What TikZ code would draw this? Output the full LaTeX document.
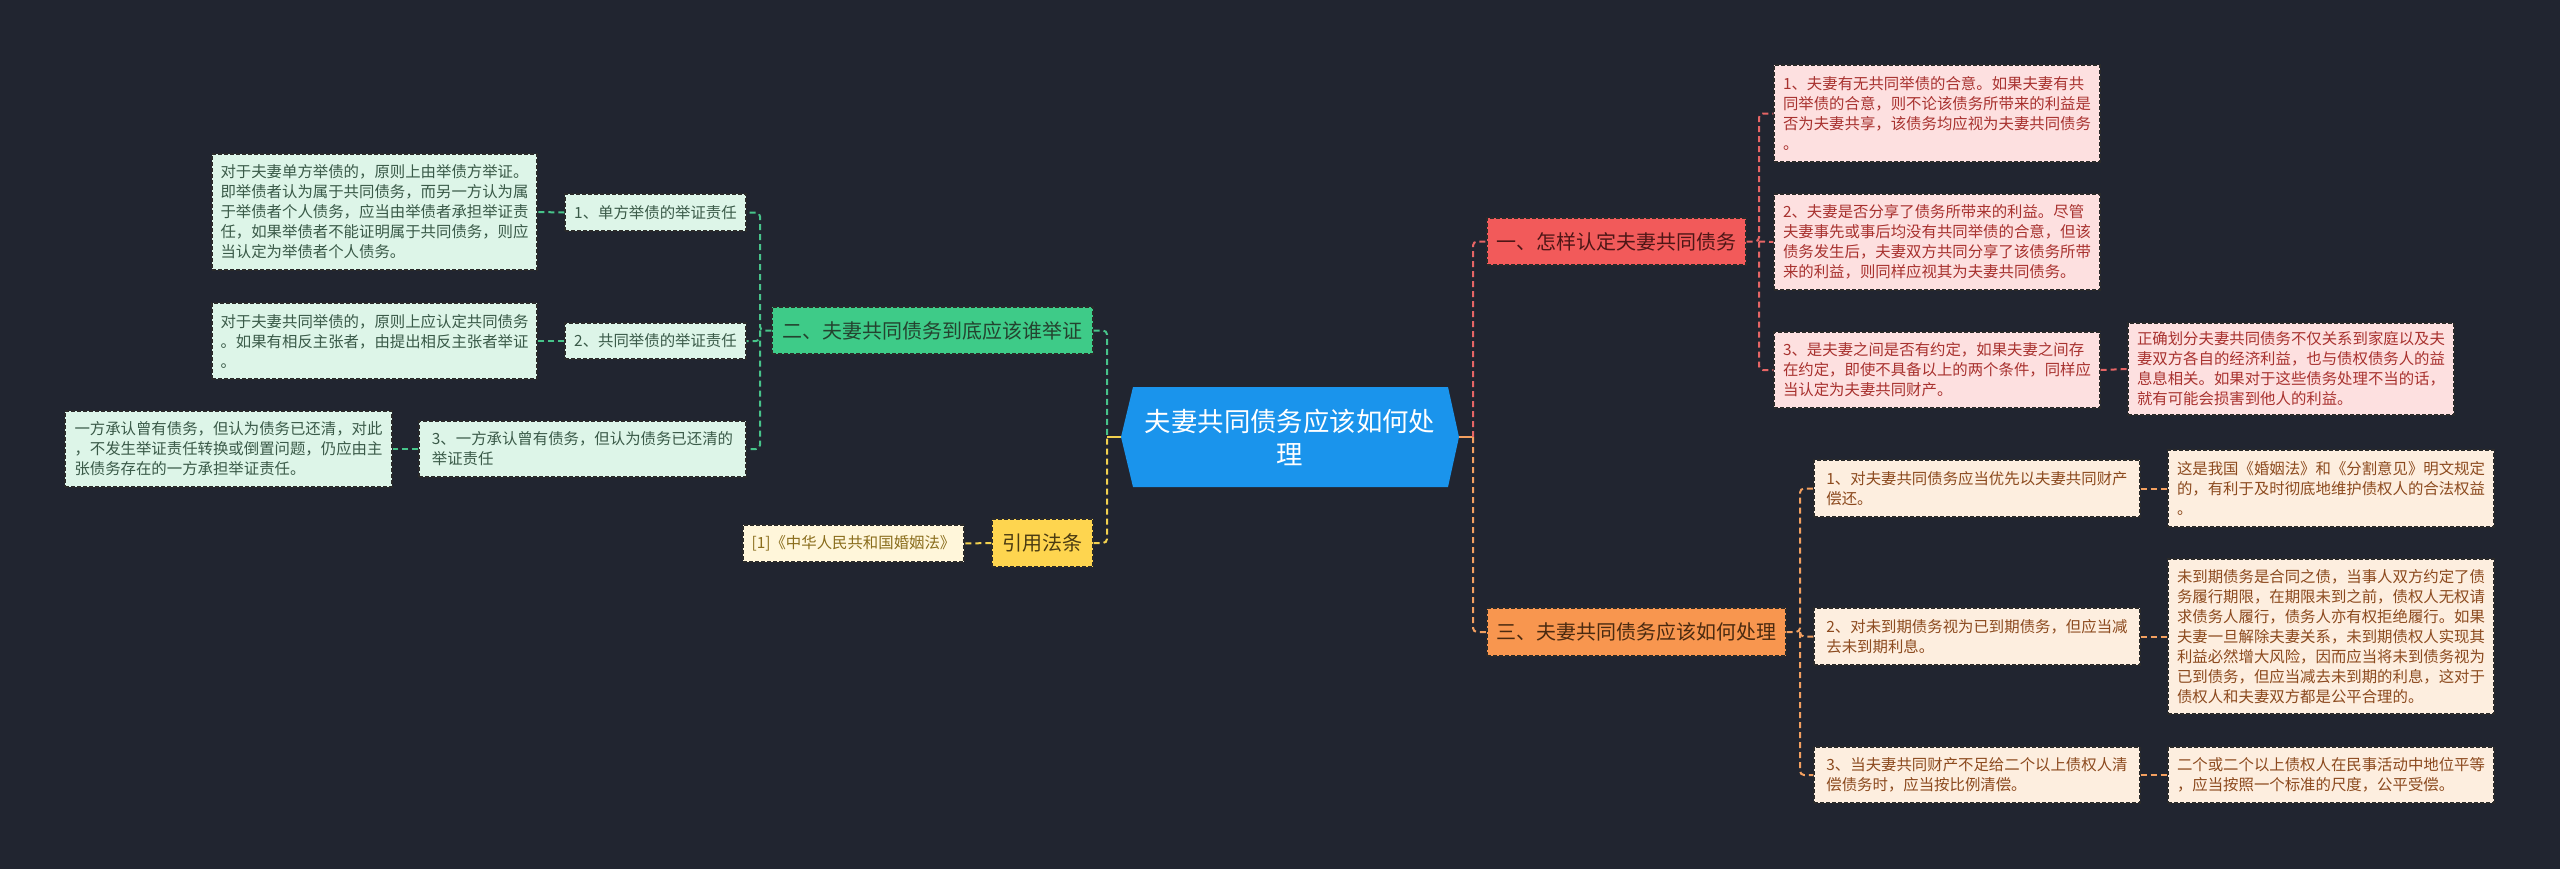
\documentclass[tikz,border=0pt]{standalone}
\usepackage{fontspec}
\setmainfont{Noto Sans CJK SC}
\definecolor{bg}{HTML}{212530}
\definecolor{cblue}{HTML}{1A94EC}
\definecolor{boxline}{HTML}{2A2A2A}
\definecolor{gmain}{HTML}{3ECB88}
\definecolor{gtextm}{HTML}{24432F}
\definecolor{gfill}{HTML}{DDF5E8}
\definecolor{gtext}{HTML}{3A5A48}
\definecolor{gline}{HTML}{47C48A}
\definecolor{rmain}{HTML}{F25A5A}
\definecolor{rtextm}{HTML}{4E1616}
\definecolor{rfill}{HTML}{FDE0E0}
\definecolor{rtext}{HTML}{A8322F}
\definecolor{rline}{HTML}{E66565}
\definecolor{omain}{HTML}{F8964F}
\definecolor{otextm}{HTML}{4A2A10}
\definecolor{ofill}{HTML}{FDEEDF}
\definecolor{otext}{HTML}{8C4A1E}
\definecolor{oline}{HTML}{F3A060}
\definecolor{ymain}{HTML}{FED54F}
\definecolor{ytextm}{HTML}{4A3B12}
\definecolor{yfill}{HTML}{FFF6DA}
\definecolor{ytext}{HTML}{8A6D1C}
\definecolor{yline}{HTML}{F2D14F}
\begin{document}
\begin{tikzpicture}[x=0.5pt,y=-0.5pt,
  sz/.style 2 args={minimum width={0.5pt*#1}, minimum height={0.5pt*#2}},
  boxbase/.style={draw=boxline, dash pattern=on 2pt off 1pt, line width=0.6pt, inner sep=0pt},
  leaf/.style={boxbase, align=left, font=\fontsize{7.7}{10}\selectfont},
  branch/.style={boxbase, align=center, font=\fontsize{10}{12}\selectfont},
  gleaf/.style={leaf, fill=gfill, text=gtext},
  rleaf/.style={leaf, fill=rfill, text=rtext},
  oleaf/.style={leaf, fill=ofill, text=otext},
  yleaf/.style={leaf, fill=yfill, text=ytext},
  conn/.style={line width=1pt, dash pattern=on 3pt off 2pt, rounded corners=2pt},
]
\useasboundingbox (0,0) rectangle (2560,869);
\fill[bg] (0,0) rectangle (2560,869);

% central hexagon
\coordinate (cc) at (1290,437);
\fill[cblue] (1121,437) -- (1133,387) -- (1448,387) -- (1459,437) -- (1448,487) -- (1133,487) -- cycle;
\node[sz={338}{100}, inner sep=0pt, align=center, text=white, font=\fontsize{13.2}{16.5}\selectfont] (center) at (cc) {夫妻共同债务应该如何处\\理};

% left side
\node[branch, fill=gmain, text=gtextm, sz={321}{47}] (green) at (932.5,330.5) {二、夫妻共同债务到底应该谁举证};
\node[branch, fill=ymain, text=ytextm, sz={101}{48}] (yellow) at (1042.5,543) {引用法条};
\node[yleaf, sz={221}{37}] (cite) at (853.5,543.5) {[1]《中华人民共和国婚姻法》};

\node[gleaf, sz={181}{37}] (L1) at (655.5,212.5) {1、单方举债的举证责任};
\node[gleaf, sz={181}{36}] (L2) at (655.5,341) {2、共同举债的举证责任};
\node[gleaf, sz={327}{56}] (L3) at (582.5,449) {3、一方承认曾有债务，但认为债务已还清的\\举证责任};

\node[gleaf, sz={325}{116}] (A1) at (374.5,212) {对于夫妻单方举债的，原则上由举债方举证。\\即举债者认为属于共同债务，而另一方认为属\\于举债者个人债务，应当由举债者承担举证责\\任，如果举债者不能证明属于共同债务，则应\\当认定为举债者个人债务。};
\node[gleaf, sz={325}{76}] (A2) at (374.5,341) {对于夫妻共同举债的，原则上应认定共同债务\\。如果有相反主张者，由提出相反主张者举证\\。};
\node[gleaf, sz={327}{76}] (A3) at (228.5,449) {一方承认曾有债务，但认为债务已还清，对此\\，不发生举证责任转换或倒置问题，仍应由主\\张债务存在的一方承担举证责任。};

% right side
\node[branch, fill=rmain, text=rtextm, sz={259}{47}] (red) at (1616.5,241.5) {一、怎样认定夫妻共同债务};
\node[rleaf, sz={326}{97}] (R1) at (1937,113.5) {1、夫妻有无共同举债的合意。如果夫妻有共\\同举债的合意，则不论该债务所带来的利益是\\否为夫妻共享，该债务均应视为夫妻共同债务\\。};
\node[rleaf, sz={326}{96}] (R2) at (1937,242) {2、夫妻是否分享了债务所带来的利益。尽管\\夫妻事先或事后均没有共同举债的合意，但该\\债务发生后，夫妻双方共同分享了该债务所带\\来的利益，则同样应视其为夫妻共同债务。};
\node[rleaf, sz={326}{76}] (R3) at (1937,370) {3、是夫妻之间是否有约定，如果夫妻之间存\\在约定，即使不具备以上的两个条件，同样应\\当认定为夫妻共同财产。};
\node[rleaf, sz={326}{92}] (R3d) at (2291,369) {正确划分夫妻共同债务不仅关系到家庭以及夫\\妻双方各自的经济利益，也与债权债务人的益\\息息相关。如果对于这些债务处理不当的话，\\就有可能会损害到他人的利益。};

\node[branch, fill=omain, text=otextm, sz={299}{48}] (orange) at (1636.5,632) {三、夫妻共同债务应该如何处理};
\node[oleaf, sz={326}{57}] (O1) at (1977,488.5) {1、对夫妻共同债务应当优先以夫妻共同财产\\偿还。};
\node[oleaf, sz={326}{77}] (O1d) at (2331,488.5) {这是我国《婚姻法》和《分割意见》明文规定\\的，有利于及时彻底地维护债权人的合法权益\\。};
\node[oleaf, sz={326}{57}] (O2) at (1977,636.5) {2、对未到期债务视为已到期债务，但应当减\\去未到期利息。};
\node[oleaf, sz={326}{155}] (O2d) at (2331,636.5) {未到期债务是合同之债，当事人双方约定了债\\务履行期限，在期限未到之前，债权人无权请\\求债务人履行，债务人亦有权拒绝履行。如果\\夫妻一旦解除夫妻关系，未到期债权人实现其\\利益必然增大风险，因而应当将未到债务视为\\已到债务，但应当减去未到期的利息，这对于\\债权人和夫妻双方都是公平合理的。};
\node[oleaf, sz={326}{56}] (O3) at (1977,775) {3、当夫妻共同财产不足给二个以上债权人清\\偿债务时，应当按比例清偿。};
\node[oleaf, sz={326}{56}] (O3d) at (2331,775) {二个或二个以上债权人在民事活动中地位平等\\，应当按照一个标准的尺度，公平受偿。};

% junction coordinates
\coordinate (jl) at (1107,437);
\coordinate (jr) at (1473,437);
\coordinate (jg) at (760,330.5);
\coordinate (jred) at (1759,241.5);
\coordinate (jor) at (1800,632);

% connectors
\draw[conn, gline] (green.east) -| (jl);
\draw[conn, yline] (yellow.east) -| (jl);
\draw[yline, line width=1pt] (jl) -- (center.west);
\draw[conn, gline] (green.west) -- (jg) |- (L1.east);
\draw[conn, gline] (jg) |- (L2.east);
\draw[conn, gline] (jg) |- (L3.east);
\draw[conn, gline] (L1.west) -- (A1.east);
\draw[conn, gline] (L2.west) -- (A2.east);
\draw[conn, gline] (L3.west) -- (A3.east);
\draw[conn, yline] (yellow.west) -- (cite.east);

\draw[oline, line width=1pt] (center.east) -- (jr);
\draw[conn, rline] (jr) |- (red.west);
\draw[conn, oline] (jr) |- (orange.west);
\draw[conn, rline] (red.east) -- (jred) |- (R1.west);
\draw[conn, rline] (jred) -- (R2.west);
\draw[conn, rline] (jred) |- (R3.west);
\draw[conn, rline] (R3.east) -- (R3d.west);
\draw[conn, oline] (orange.east) -- (jor) |- (O1.west);
\draw[conn, oline] (jor) |- (O2.west);
\draw[conn, oline] (jor) |- (O3.west);
\draw[conn, oline] (O1.east) -- (O1d.west);
\draw[conn, oline] (O2.east) -- (O2d.west);
\draw[conn, oline] (O3.east) -- (O3d.west);
\end{tikzpicture}
\end{document}
